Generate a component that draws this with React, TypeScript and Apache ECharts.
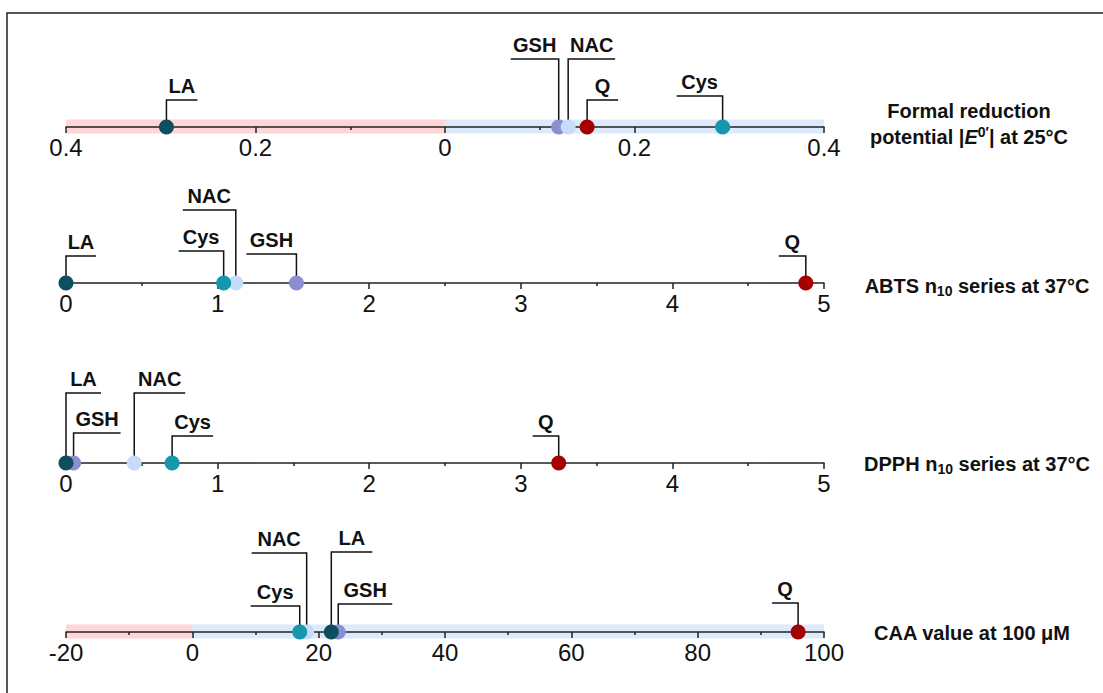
import React, { useEffect, useRef } from "react";
import * as echarts from "echarts";

// drawing order (later ones on top)
const COMPOUNDS = ["GSH", "NAC", "Cys", "LA", "Q"];
const COMPOUND_COLORS = ["#8b8fd0", "#c7dcf6", "#1597ae", "#0d4f5e", "#a50000"];

// values per panel, in COMPOUNDS order
const E0_VALUES = [0.12, 0.13, 0.293, -0.294, 0.15];
const ABTS_VALUES = [1.52, 1.12, 1.04, 0.0, 4.88];
const DPPH_VALUES = [0.05, 0.45, 0.7, 0.0, 3.25];
const CAA_VALUES = [23.1, 18.1, 17.0, 22.0, 95.9];

// axis ranges [min, max, interval]
const E0_RANGE = [-0.4, 0.4, 0.2];
const ABTS_RANGE = [0, 5, 1];
const DPPH_RANGE = [0, 5, 1];
const CAA_RANGE = [-20, 100, 20];

// shaded bands [start, end]
const E0_BANDS = [[-0.4, 0], [0, 0.4]];
const CAA_BANDS = [[-20, 0], [0, 100]];
const BAND_COLORS = ["#ffd6d8", "#dceafb"];

const FONT = '"Liberation Sans", Arial, sans-serif';

// leader layout: [height above axis, direction, horizontal length]
const LEADERS: Record<string, Record<string, number[]>> = {
  e0: { GSH: [68, -1, 48], NAC: [68, 1, 47], Cys: [31, -1, 46], LA: [27, 1, 31], Q: [27, 1, 31] },
  abts: { GSH: [29, -1, 50], NAC: [73, -1, 53], Cys: [32, -1, 45], LA: [27, 1, 30], Q: [27, -1, 27] },
  dpph: { GSH: [30, 1, 47], NAC: [70, 1, 51], Cys: [27, 1, 41], LA: [70, 1, 35], Q: [27, -1, 26] },
  caa: { GSH: [28, 1, 54], NAC: [79, -1, 55], Cys: [26, -1, 49], LA: [80, 1, 41], Q: [29, -1, 26] },
};

const PANELS = [
  { key: "e0", values: E0_VALUES, range: E0_RANGE, bands: E0_BANDS, axisY: 127, abs: true },
  { key: "abts", values: ABTS_VALUES, range: ABTS_RANGE, bands: null, axisY: 283, abs: false },
  { key: "dpph", values: DPPH_VALUES, range: DPPH_RANGE, bands: null, axisY: 463, abs: false },
  { key: "caa", values: CAA_VALUES, range: CAA_RANGE, bands: CAA_BANDS, axisY: 632, abs: false },
];

export default function App() {
  const ref = useRef<HTMLDivElement>(null);
  useEffect(() => {
    if (!ref.current) return;
    const chart = echarts.init(ref.current, undefined, { renderer: "svg" });
    const grids: any[] = [];
    const xAxes: any[] = [];
    const yAxes: any[] = [];
    const series: any[] = [];

    PANELS.forEach((p, i) => {
      grids.push({ left: 66, width: 758, top: p.axisY - 40, height: 40 });
      xAxes.push({
        type: "value",
        gridIndex: i,
        position: "bottom",
        min: p.range[0],
        max: p.range[1],
        interval: p.range[2],
        z: 3,
        axisLine: { onZero: false, lineStyle: { color: "#222", width: 1.5 } },
        axisTick: { show: true, length: 6, lineStyle: { color: "#222", width: 1.5 } },
        minorTick: { show: true, splitNumber: 2, length: 3, lineStyle: { color: "#222", width: 1.5 } },
        splitLine: { show: false },
        axisLabel: {
          fontFamily: FONT,
          fontSize: 24,
          color: "#111",
          margin: 8,
          formatter: (v: number) => {
            const r = +v.toFixed(2);
            return String(p.abs ? Math.abs(r) : r);
          },
        },
      });
      yAxes.push({ type: "value", gridIndex: i, min: 0, max: 1, show: false });

      if (p.bands) {
        series.push({
          type: "custom",
          xAxisIndex: i,
          yAxisIndex: i,
          z: 1,
          silent: true,
          data: p.bands.map((b) => [b[0], b[1]]),
          renderItem: (params: any, api: any) => {
            const a = api.coord([api.value(0), 0]);
            const b = api.coord([api.value(1), 0]);
            return {
              type: "rect",
              shape: { x: a[0], y: a[1] - 7.5, width: b[0] - a[0], height: 14 },
              style: { fill: BAND_COLORS[params.dataIndex] },
            };
          },
        });
      }

      const lay = LEADERS[p.key];
      series.push({
        type: "custom",
        xAxisIndex: i,
        yAxisIndex: i,
        z: 2,
        silent: true,
        data: p.values.map((v) => [v, 0]),
        renderItem: (params: any, api: any) => {
          const name = COMPOUNDS[params.dataIndex];
          const [h, dir, w] = lay[name];
          const c = api.coord([api.value(0), 0]);
          const x = c[0];
          const y = c[1];
          return {
            type: "group",
            children: [
              {
                type: "polyline",
                shape: { points: [[x, y], [x, y - h], [x + dir * w, y - h]] },
                style: { stroke: "#111", lineWidth: 1.5, fill: "none" },
              },
              {
                type: "text",
                style: {
                  text: name,
                  x: x + (dir * w) / 2,
                  y: y - h - 14,
                  align: "center",
                  verticalAlign: "middle",
                  textAlign: "center",
                  textVerticalAlign: "middle",
                  font: `bold 20px ${FONT}`,
                  fill: "#111",
                },
              },
            ],
          };
        },
      });

      series.push({
        type: "scatter",
        xAxisIndex: i,
        yAxisIndex: i,
        z: 4,
        symbolSize: 15,
        data: p.values.map((v, k) => ({
          value: [v, 0],
          name: COMPOUNDS[k],
          itemStyle: { color: COMPOUND_COLORS[k], opacity: 1 },
        })),
      });
    });

    const bold = { fontFamily: FONT, fontWeight: "bold", fontSize: 20, fill: "#111", lineHeight: 24 };
    const sub = { fontFamily: FONT, fontWeight: "bold", fontSize: 14, fill: "#111", lineHeight: 14, padding: [10, 0, 0, 0] };
    const sup = { fontFamily: FONT, fontWeight: "bold", fontSize: 14, fill: "#111", lineHeight: 14, padding: [0, 0, 10, 0] };
    const ital = { fontFamily: FONT, fontWeight: "bold", fontStyle: "italic", fontSize: 20, fill: "#111", lineHeight: 24 };

    const titleText = (x: number, y: number, text: string) => ({
      type: "text",
      x,
      y,
      style: {
        text,
        align: "center",
        verticalAlign: "middle",
        textAlign: "center",
        textVerticalAlign: "middle",
        rich: { b: bold, sub, sup, i: ital },
      },
    });

    chart.setOption({
      animation: false,
      grid: grids,
      xAxis: xAxes,
      yAxis: yAxes,
      series,
      graphic: [
        {
          type: "rect",
          shape: { x: 7, y: 13, width: 1200, height: 800 },
          style: { fill: "none", stroke: "#222", lineWidth: 1.5 },
          silent: true,
        },
        titleText(969, 111, "{b|Formal reduction}"),
        titleText(969, 137, "{b|potential |}{i|E}{sup|0′}{b|| at 25°C}"),
        titleText(977, 286, "{b|ABTS n}{sub|10}{b| series at 37°C}"),
        titleText(977, 464, "{b|DPPH n}{sub|10}{b| series at 37°C}"),
        titleText(972, 633, "{b|CAA value at 100 μM}"),
      ],
    });
    return () => chart.dispose();
  }, []);
  return (
    <div
      ref={ref}
      style={{ position: "fixed", left: 0, top: 0, width: 1103, height: 693, background: "#fff" }}
    />
  );
}
